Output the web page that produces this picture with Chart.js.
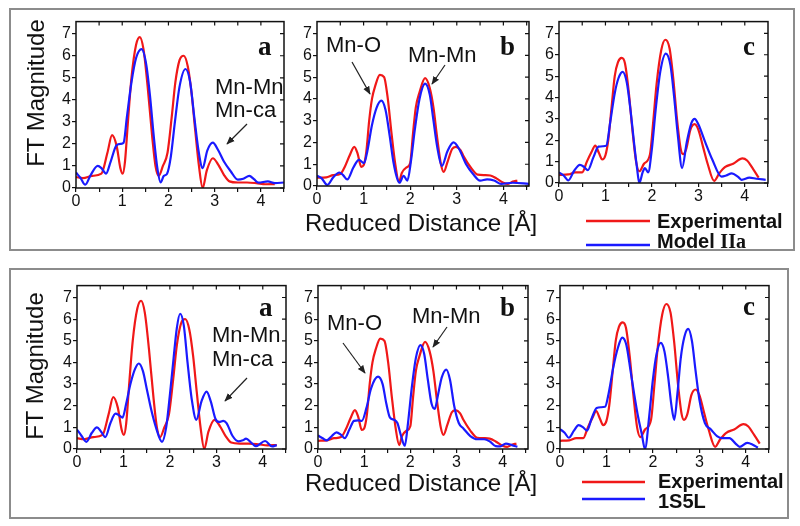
<!DOCTYPE html>
<html>
<head>
<meta charset="utf-8">
<script src="https://cdn.jsdelivr.net/npm/chart.js@4.4.1/dist/chart.umd.min.js"></script>
<style>
  body { margin: 0; background: #fff; }
  #wrap { position: relative; width: 800px; height: 526px; overflow: hidden; }
  #wrap canvas { position: absolute; }
  #ann { position: absolute; left: 0; top: 0; }
</style>
</head>
<body>
<div id="wrap">
<svg id="ann" width="800" height="526" xmlns="http://www.w3.org/2000/svg">
  <defs>
    <marker id="ah" viewBox="0 0 10 10" refX="9" refY="5" markerWidth="7" markerHeight="7" orient="auto">
      <path d="M0,1 L10,5 L0,9 z" fill="#222"/>
    </marker>
  </defs>
  <rect x="10" y="9" width="784" height="241" fill="none" stroke="#8c8c8c" stroke-width="2"/>
  <rect x="10" y="269" width="778" height="249" fill="none" stroke="#8c8c8c" stroke-width="2"/>
  <g font-family="Liberation Sans, Arial, sans-serif" fill="#111">
    <text x="44" y="93" font-size="24" text-anchor="middle" transform="rotate(-90 44 93)">FT Magnitude</text>
    <text x="43" y="366" font-size="24" text-anchor="middle" transform="rotate(-90 43 366)">FT Magnitude</text>
    <text x="421" y="231" font-size="24" text-anchor="middle">Reduced Distance [Å]</text>
    <text x="421" y="491" font-size="24" text-anchor="middle">Reduced Distance [Å]</text>
    <text x="215" y="94" font-size="22">Mn-Mn</text>
    <text x="215" y="117" font-size="22">Mn-ca</text>
    <text x="326" y="52" font-size="22">Mn-O</text>
    <text x="408" y="62" font-size="22">Mn-Mn</text>
    <text x="212" y="342" font-size="22">Mn-Mn</text>
    <text x="212" y="366" font-size="22">Mn-ca</text>
    <text x="327" y="330" font-size="22">Mn-O</text>
    <text x="412" y="323" font-size="22">Mn-Mn</text>
    <text x="657" y="228" font-size="20" font-weight="bold">Experimental</text>
    <text x="657" y="248" font-size="20" font-weight="bold">Model <tspan font-family="Liberation Serif, Times New Roman, serif">IIa</tspan></text>
    <text x="658" y="488" font-size="20" font-weight="bold">Experimental</text>
    <text x="658" y="508" font-size="20" font-weight="bold">1S5L</text>
  </g>
  <g font-family="Liberation Serif, Times New Roman, serif" font-weight="bold" font-size="27" fill="#111">
    <text x="258" y="55">a</text>
    <text x="500" y="55">b</text>
    <text x="743" y="55">c</text>
    <text x="259" y="316">a</text>
    <text x="500" y="316">b</text>
    <text x="743" y="315">c</text>
  </g>
  <g stroke="#222" stroke-width="1.2" marker-end="url(#ah)">
    <line x1="247" y1="124" x2="227" y2="144"/>
    <line x1="352" y1="62" x2="370" y2="94"/>
    <line x1="445" y1="65" x2="432" y2="84"/>
    <line x1="247" y1="378" x2="225" y2="401"/>
    <line x1="343" y1="343" x2="365" y2="373"/>
    <line x1="447" y1="327" x2="433" y2="347"/>
  </g>
  <g stroke-width="2.5">
    <line x1="586" y1="221" x2="650" y2="221" stroke="#f01818"/>
    <line x1="586" y1="245" x2="650" y2="245" stroke="#1a1aff"/>
    <line x1="582" y1="482" x2="645" y2="482" stroke="#f01818"/>
    <line x1="582" y1="499" x2="645" y2="499" stroke="#1a1aff"/>
  </g>
</svg>
</div>
<script>
// Experimental spectra (same in both rows), [distance, magnitude]
const expA = [[0,0.5],[0.15,0.45],[0.35,0.55],[0.55,0.65],[0.68,1.6],[0.78,2.4],[0.88,1.9],[0.96,0.9],[1.01,0.65],[1.06,1.2],[1.12,2.9],[1.2,5.0],[1.3,6.5],[1.38,6.85],[1.46,6.3],[1.55,4.6],[1.65,2.3],[1.72,1.0],[1.79,0.55],[1.88,1.0],[1.98,1.6],[2.07,3.2],[2.15,4.8],[2.24,5.8],[2.33,6.0],[2.42,5.5],[2.5,4.3],[2.58,2.6],[2.66,1.0],[2.74,0.0],[2.83,0.8],[2.96,1.35],[3.08,1.05],[3.2,0.6],[3.32,0.3],[3.5,0.25],[3.7,0.25],[3.9,0.22],[4.1,0.17],[4.3,0.18]];
const expB = [[0,0.38],[0.2,0.4],[0.35,0.5],[0.5,0.55],[0.6,0.9],[0.7,1.4],[0.8,1.8],[0.87,1.5],[0.95,0.88],[1.0,0.95],[1.06,1.6],[1.12,3.0],[1.18,4.0],[1.25,4.6],[1.35,5.1],[1.44,5.0],[1.52,4.0],[1.6,2.4],[1.68,1.0],[1.76,0.18],[1.82,0.6],[1.92,0.85],[2.0,1.05],[2.06,2.4],[2.12,3.6],[2.2,4.3],[2.32,4.95],[2.42,4.5],[2.5,3.6],[2.58,2.2],[2.66,1.0],[2.72,0.65],[2.8,1.1],[2.9,1.7],[2.98,1.8],[3.08,1.65],[3.15,1.35],[3.3,0.85],[3.45,0.52],[3.6,0.5],[3.72,0.48],[3.85,0.35],[4.0,0.15],[4.1,0.1],[4.2,0.2],[4.3,0.25]];
const expC = [[0,0.38],[0.2,0.4],[0.35,0.5],[0.5,0.5],[0.6,1.0],[0.7,1.45],[0.78,1.75],[0.86,1.4],[0.93,1.1],[1.0,1.3],[1.06,2.0],[1.13,3.5],[1.2,5.0],[1.27,5.65],[1.35,5.85],[1.42,5.6],[1.5,4.3],[1.58,2.5],[1.66,1.0],[1.73,0.55],[1.83,0.9],[1.96,1.35],[2.03,2.9],[2.1,4.6],[2.2,6.2],[2.29,6.7],[2.38,6.3],[2.46,4.9],[2.54,3.0],[2.62,1.6],[2.67,1.35],[2.74,1.6],[2.83,2.5],[2.92,2.75],[3.0,2.5],[3.1,1.7],[3.2,0.9],[3.34,0.1],[3.45,0.45],[3.58,0.75],[3.75,0.9],[3.95,1.15],[4.05,1.05],[4.18,0.65],[4.3,0.25]];

// Model IIa (top row)
const iiaA = [[0,0.7],[0.1,0.45],[0.2,0.15],[0.32,0.6],[0.47,1.0],[0.55,0.9],[0.65,0.65],[0.75,1.2],[0.88,1.95],[0.97,2.0],[1.03,2.05],[1.1,3.2],[1.2,4.8],[1.3,5.9],[1.42,6.3],[1.52,5.6],[1.6,4.2],[1.68,2.4],[1.76,0.9],[1.83,0.25],[1.9,0.55],[1.97,0.65],[2.05,1.4],[2.14,3.0],[2.24,4.6],[2.37,5.4],[2.47,4.8],[2.56,3.2],[2.65,1.7],[2.74,0.9],[2.84,1.7],[2.96,2.06],[3.08,1.7],[3.2,1.2],[3.35,0.75],[3.5,0.38],[3.62,0.42],[3.75,0.55],[3.85,0.4],[3.95,0.24],[4.15,0.3],[4.3,0.22],[4.5,0.25]];
const iiaB = [[0,0.47],[0.1,0.35],[0.22,0.05],[0.35,0.4],[0.48,0.62],[0.56,0.5],[0.65,0.3],[0.78,0.85],[0.9,1.2],[1.01,1.05],[1.08,1.6],[1.18,2.8],[1.28,3.6],[1.38,3.92],[1.47,3.5],[1.56,2.3],[1.64,1.1],[1.72,0.35],[1.77,0.15],[1.86,0.47],[1.94,0.25],[2.02,1.2],[2.1,2.6],[2.2,4.0],[2.32,4.7],[2.42,4.2],[2.5,3.0],[2.58,1.8],[2.68,0.92],[2.8,1.6],[2.93,2.0],[3.05,1.7],[3.2,1.0],[3.35,0.55],[3.5,0.25],[3.65,0.3],[3.8,0.25],[3.95,0.1],[4.2,0.15],[4.55,0.1]];
const iiaC = [[0,0.5],[0.1,0.35],[0.2,0.12],[0.32,0.55],[0.45,0.85],[0.54,0.75],[0.62,0.6],[0.74,1.2],[0.85,1.7],[0.95,1.72],[1.02,1.75],[1.1,2.8],[1.2,4.2],[1.28,4.9],[1.37,5.2],[1.46,4.7],[1.54,3.4],[1.62,1.8],[1.68,0.7],[1.73,0.0],[1.8,0.5],[1.85,0.7],[1.92,0.5],[2.0,1.6],[2.08,3.4],[2.18,5.2],[2.3,6.05],[2.4,5.5],[2.48,4.0],[2.56,2.2],[2.65,0.7],[2.75,1.9],[2.85,2.8],[2.92,3.0],[3.0,2.75],[3.15,1.9],[3.3,1.1],[3.5,0.3],[3.6,0.35],[3.72,0.45],[3.85,0.3],[3.93,0.15],[4.1,0.25],[4.25,0.2],[4.45,0.15]];

// 1S5L (bottom row)
const s5lA = [[0,0.9],[0.1,0.6],[0.2,0.33],[0.32,0.75],[0.43,1.0],[0.52,0.8],[0.61,0.55],[0.72,1.2],[0.83,1.63],[0.91,1.55],[0.98,1.45],[1.06,2.1],[1.15,3.0],[1.25,3.7],[1.33,3.95],[1.42,3.6],[1.5,2.8],[1.6,1.8],[1.7,1.0],[1.83,0.33],[1.92,1.0],[2.0,2.5],[2.08,4.2],[2.15,5.6],[2.22,6.25],[2.3,5.7],[2.38,4.0],[2.47,2.3],[2.57,1.35],[2.68,2.2],[2.79,2.65],[2.88,2.2],[2.98,1.4],[3.06,1.25],[3.15,1.3],[3.22,1.2],[3.35,0.6],[3.48,0.35],[3.57,0.4],[3.64,0.48],[3.75,0.3],[3.85,0.13],[4.05,0.37],[4.2,0.12],[4.3,0.18]];
const s5lB = [[0,0.62],[0.1,0.5],[0.19,0.4],[0.3,0.6],[0.4,0.77],[0.5,0.65],[0.58,0.5],[0.68,0.9],[0.78,1.3],[0.87,1.32],[0.95,1.3],[1.05,1.9],[1.15,2.8],[1.3,3.34],[1.4,3.0],[1.48,2.1],[1.56,1.45],[1.65,1.35],[1.72,1.2],[1.8,0.6],[1.88,0.15],[1.95,1.2],[2.03,2.8],[2.12,4.2],[2.22,4.8],[2.3,4.4],[2.38,3.2],[2.46,2.1],[2.53,1.85],[2.6,2.5],[2.68,3.3],[2.78,3.67],[2.86,3.2],[2.95,2.0],[3.05,1.2],[3.15,0.95],[3.3,0.6],[3.45,0.45],[3.6,0.45],[3.72,0.35],[3.85,0.13],[3.95,0.12],[4.07,0.25],[4.2,0.18],[4.32,0.1]];
const s5lC = [[0,0.92],[0.1,0.75],[0.19,0.52],[0.3,0.85],[0.4,1.1],[0.5,1.0],[0.58,0.85],[0.68,1.4],[0.79,1.9],[0.88,1.93],[0.97,1.95],[1.05,2.6],[1.15,3.8],[1.25,4.7],[1.34,5.15],[1.43,4.8],[1.52,3.6],[1.6,2.5],[1.68,1.5],[1.76,0.7],[1.83,0.0],[1.92,1.5],[2.0,3.2],[2.08,4.4],[2.17,4.9],[2.25,4.5],[2.33,3.3],[2.4,2.0],[2.46,1.35],[2.53,2.6],[2.6,4.2],[2.68,5.2],[2.76,5.55],[2.84,5.0],[2.92,3.6],[3.0,2.3],[3.12,1.2],[3.25,0.9],[3.38,0.6],[3.5,0.5],[3.65,0.5],[3.78,0.25],[3.87,0.1],[4.03,0.28],[4.15,0.2],[4.26,0.06]];

// labelled ticks; x also gets unlabelled half steps
const xTicks = [0, 1, 2, 3, 4];
const xMinor = [0.5, 1.5, 2.5, 3.5, 4.5];
const yTicks = [0, 1, 2, 3, 4, 5, 6, 7];

const RED = '#f01818', BLUE = '#1a1aff';
const AX_W = 40, AX_H = 28, PAD_T = 6, PAD_R = 6;

// plot area [left, top, right, bottom] in page pixels
const panels = [
  {rect: [76, 17, 284, 188],  xmax: 4.5,  exp: expA, model: iiaA},
  {rect: [317, 17, 529, 186], xmax: 4.55, exp: expB, model: iiaB},
  {rect: [559, 17, 768, 183], xmax: 4.5,  exp: expC, model: iiaC},
  {rect: [77, 281, 286, 449], xmax: 4.5,  exp: expA, model: s5lA},
  {rect: [318, 281, 528, 449], xmax: 4.55, exp: expB, model: s5lB},
  {rect: [560, 281, 769, 449], xmax: 4.5,  exp: expC, model: s5lC}
];

Chart.defaults.font.family = 'Liberation Sans, Arial, sans-serif';
Chart.defaults.font.size = 16;
Chart.defaults.color = '#111';

// closed box with inward ticks on top and right edges
const framePlugin = {
  id: 'frame',
  afterDraw(chart) {
    const {ctx, chartArea: a} = chart;
    const x = chart.scales.x, y = chart.scales.y;
    ctx.save();
    ctx.strokeStyle = '#111';
    ctx.lineWidth = 1.5;
    ctx.strokeRect(a.left, a.top, a.right - a.left, a.bottom - a.top);
    ctx.lineWidth = 1.2;
    ctx.beginPath();
    xTicks.concat(xMinor).forEach(v => {
      if (v <= 0 || v >= x.max) return;
      const px = x.getPixelForValue(v);
      ctx.moveTo(px, a.top);
      ctx.lineTo(px, a.top + 4);
    });
    yTicks.forEach(v => {
      const py = y.getPixelForValue(v);
      ctx.moveTo(a.right, py);
      ctx.lineTo(a.right - 4, py);
    });
    ctx.stroke();
    ctx.restore();
  }
};

const wrap = document.getElementById('wrap');

panels.forEach(p => {
  const [l, t, r, b] = p.rect;
  const cv = document.createElement('canvas');
  const w = r - l + AX_W + PAD_R, h = b - t + PAD_T + AX_H;
  cv.width = w; cv.height = h;
  cv.style.left = (l - AX_W) + 'px';
  cv.style.top = (t - PAD_T) + 'px';
  cv.style.width = w + 'px';
  cv.style.height = h + 'px';
  wrap.insertBefore(cv, wrap.firstChild);

  new Chart(cv.getContext('2d'), {
    type: 'line',
    data: {
      datasets: [
        {label: 'model', data: p.model, borderColor: BLUE, borderWidth: 2.2},
        {label: 'Experimental', data: p.exp, borderColor: RED, borderWidth: 2.2}
      ]
    },
    options: {
      responsive: false,
      animation: false,
      devicePixelRatio: 1,
      layout: {padding: {left: 0, top: PAD_T, right: PAD_R, bottom: 0}},
      elements: {
        point: {radius: 0},
        line: {cubicInterpolationMode: 'monotone', fill: false}
      },
      plugins: {legend: {display: false}, tooltip: {enabled: false}},
      scales: {
        x: {
          type: 'linear', min: 0, max: p.xmax,
          afterBuildTicks: s => {
            s.ticks = xTicks.concat(xMinor).filter(v => v <= p.xmax)
              .sort((m, n) => m - n).map(v => ({value: v}));
          },
          afterFit: s => { s.height = AX_H; },
          border: {display: false},
          grid: {drawOnChartArea: false, tickLength: 4, color: '#111', lineWidth: 1.2},
          ticks: {
            padding: 0, maxRotation: 0, autoSkip: false,
            callback: v => xTicks.includes(v) ? String(v) : ''
          }
        },
        y: {
          min: 0, max: 7.55,
          afterBuildTicks: s => { s.ticks = yTicks.map(v => ({value: v})); },
          afterFit: s => { s.width = AX_W; },
          border: {display: false},
          grid: {drawOnChartArea: false, tickLength: 4, color: '#111', lineWidth: 1.2},
          ticks: {
            padding: 1, autoSkip: false,
            callback: v => String(v)
          }
        }
      }
    },
    plugins: [framePlugin]
  });
});
</script>
</body>
</html>
